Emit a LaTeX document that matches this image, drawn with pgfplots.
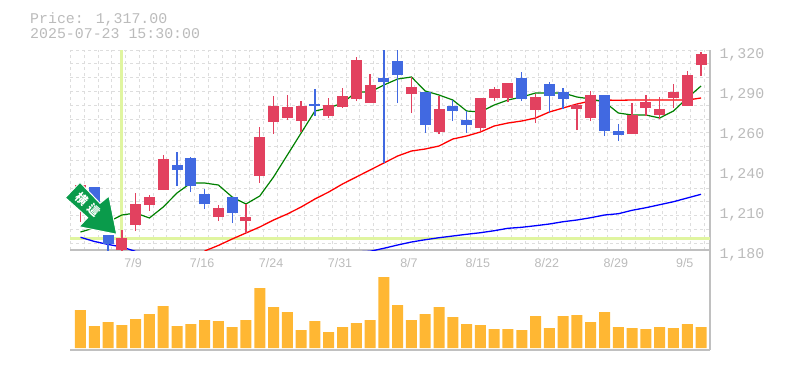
\documentclass[border=0pt]{standalone}
\usepackage{fontspec}
\usepackage{pgfplots}
\usepackage{pgfplotstable}
\pgfplotsset{compat=1.18}
\setmainfont{Liberation Sans}
\newfontfamily\monof{Liberation Mono}
\newfontfamily\cjk{Noto Sans CJK JP}
\definecolor{upc}{HTML}{E2415F}
\definecolor{dnc}{HTML}{4169E1}
\definecolor{volc}{HTML}{FFB733}
\definecolor{gridc}{HTML}{DDDDDD}
\definecolor{axc}{HTML}{C0C0C0}
\definecolor{txtc}{HTML}{BBBBBB}
\definecolor{crossc}{HTML}{E0F5A0}
\definecolor{arrowc}{HTML}{0A9B4B}
\pgfplotstableread{
i o c l h
0 1211.5 1225.5 1199.6 1226.2
3 1180.0 1188.4 1178.6 1194.0
4 1197.5 1212.2 1193.3 1219.9
5 1211.5 1217.1 1207.3 1218.5
6 1222.0 1243.7 1222.0 1246.5
10 1203.1 1209.4 1200.3 1211.5
12 1200.3 1203.1 1191.9 1212.2
13 1231.8 1259.1 1226.9 1266.1
14 1269.6 1280.8 1261.2 1287.8
15 1272.4 1280.1 1271.0 1288.5
16 1270.3 1280.8 1262.6 1284.3
18 1273.8 1281.5 1272.4 1286.4
19 1280.1 1287.8 1279.4 1293.4
20 1285.7 1313.0 1284.3 1315.1
21 1282.9 1295.5 1282.9 1303.2
24 1289.2 1294.1 1275.9 1301.1
26 1262.6 1278.7 1261.2 1287.8
29 1265.4 1286.4 1263.3 1286.4
30 1286.4 1292.7 1284.3 1294.1
31 1286.4 1296.9 1283.6 1296.9
33 1278.0 1287.1 1268.9 1289.2
36 1278.7 1281.5 1264.0 1282.2
37 1272.4 1288.5 1270.3 1291.3
40 1261.2 1274.5 1261.2 1282.9
41 1279.4 1283.6 1273.8 1288.5
42 1274.5 1278.7 1271.7 1287.1
43 1286.4 1290.6 1279.4 1296.2
44 1280.8 1302.5 1280.8 1305.3
45 1309.5 1317.2 1301.8 1318.6
}\upT
\pgfplotstableread{
i o c l h
1 1197.5 1224.1 1195.0 1224.1
2 1184.2 1190.5 1178.6 1190.5
7 1236.0 1239.5 1224.8 1248.6
8 1224.8 1244.4 1220.6 1245.1
9 1212.2 1219.2 1208.7 1222.7
11 1205.9 1217.1 1198.9 1217.1
17 1280.8 1282.2 1273.8 1292.7
22 1297.6 1300.4 1240.9 1327.0
23 1302.5 1312.3 1282.9 1327.0
25 1267.5 1290.6 1261.9 1290.6
27 1277.3 1280.8 1270.3 1285.0
28 1267.5 1271.0 1261.9 1277.3
32 1285.7 1300.4 1284.3 1304.6
34 1287.8 1296.2 1275.9 1297.6
35 1285.7 1290.6 1278.7 1293.4
38 1263.3 1288.5 1259.8 1288.5
39 1260.5 1263.3 1256.3 1268.2
}\dnT
\begin{document}
\begin{tikzpicture}[x=1pt,y=1pt]
\useasboundingbox (0,0) rectangle (785,-370);
\node[anchor=base west,inner sep=0pt,text=txtc,font=\monof\fontsize{14.9}{15}\selectfont] at (30,-23) {Price: 1,317.00};
\node[anchor=base west,inner sep=0pt,text=txtc,font=\monof\fontsize{14.9}{15}\selectfont] at (30,-38) {2025-07-23 15:30:00};
\begin{axis}[
  at={(70pt,-250pt)},anchor=south west,
  scale only axis,width=640pt,height=200pt,
  xmin=-0.761,xmax=45.65,ymin=1180,ymax=1320,
  axis x line*=bottom,axis y line*=right,
  axis line style={axc,line width=1.4pt,-},
  xtick={4,9,14,19,24,29,34,39,44},
  xticklabels={7/9,7/16,7/24,7/31,8/7,8/15,8/22,8/29,9/5},
  ytick={1180,1208,1236,1264,1292,1320},
  yticklabels={{1,180},{1,210},{1,240},{1,260},{1,290},{1,320}},
  minor xtick={-0.725,0.274,...,45.3},
  minor ytick={1184.76,1194.42,...,1320.5},
  xminorgrids=true,yminorgrids=true,xmajorgrids=false,ymajorgrids=false,
  minor grid style={gridc,line width=1pt,dash pattern=on 3pt off 3pt},
  major tick length=0pt,minor tick length=0pt,
  x tick label style={text=txtc,font=\fontsize{12.5}{13}\selectfont,anchor=center,yshift=-13pt,xshift=-2.5pt},
  y tick label style={text=txtc,font=\monof\fontsize{14.9}{15}\selectfont,anchor=west,yshift=-5pt,xshift=6pt},
  clip=true,
  every axis plot/.append style={forget plot},
]
\addplot[crossc,line width=3pt] coordinates {(3,1180) (3,1320)};
\addplot[crossc,line width=3pt] coordinates {(-0.761,1188.4) (45.65,1188.4)};
% moving averages
\addplot[color=blue,line width=1.3pt] coordinates {(0,1188.9)(1,1186)(2,1183.9)(3,1182.1)(4,1179)(12,1175)(21,1179.1)(22,1181.2)(23,1183.5)(24,1185.6)(25,1187.2)(26,1188.6)(27,1189.8)(28,1191)(29,1192.1)(30,1193.5)(31,1195.2)(32,1195.9)(33,1197)(34,1198.2)(35,1199.8)(36,1201)(37,1202.6)(38,1204.5)(39,1205.4)(40,1207.8)(41,1209.6)(42,1211.7)(43,1213.8)(44,1216.4)(45,1219)};
\addplot[color=red,line width=1.3pt] coordinates {(9,1179.3)(10,1183.2)(11,1187.7)(12,1191.9)(13,1196.1)(14,1201)(15,1205.2)(16,1210.1)(17,1215.7)(18,1220.6)(19,1226.2)(20,1231.1)(21,1236)(22,1240.9)(23,1245.8)(24,1249.3)(25,1250.7)(26,1252.8)(27,1257.7)(28,1259.8)(29,1262.6)(30,1266.8)(31,1268.9)(32,1270.3)(33,1272.4)(34,1276.6)(35,1279.4)(36,1282.2)(37,1284.3)(38,1285)(39,1284.8)(40,1285)(41,1285)(42,1285)(43,1285)(44,1285)(45,1286.4)};
\addplot[color=green!50!black,line width=1.2pt] coordinates {(0,1192.6)(1,1195.4)(2,1199.6)(3,1204.5)(4,1205.9)(5,1202.4)(6,1210.1)(7,1219.9)(8,1226.9)(9,1226.9)(10,1225.5)(11,1217.1)(12,1212.2)(13,1217.8)(14,1231.1)(15,1246.5)(16,1261.9)(17,1277.3)(18,1279.4)(19,1282.9)(20,1290.6)(21,1290.6)(22,1295.5)(23,1299.7)(24,1301.1)(25,1291.3)(26,1288.5)(27,1285)(28,1277.3)(29,1276.6)(30,1281.5)(31,1285)(32,1287.1)(33,1289.9)(34,1289.9)(35,1289.9)(36,1287.1)(37,1285.7)(38,1283.6)(39,1275.9)(40,1274.5)(41,1274.5)(42,1272.4)(43,1277.3)(44,1286.4)(45,1294.8)};
% candles: wicks then bodies
\addplot[draw=none,mark=none,error bars/.cd,y dir=plus,y explicit,error mark=none,error bar style={draw=upc,solid,line width=1.3pt}] table[x=i,y=l,y error plus expr=\thisrow{h}-\thisrow{l}] {\upT};
\addplot[draw=none,mark=none,error bars/.cd,y dir=plus,y explicit,error mark=none,error bar style={draw=dnc,solid,line width=1.3pt}] table[x=i,y=l,y error plus expr=\thisrow{h}-\thisrow{l}] {\dnT};
\addplot[draw=none,mark=none,error bars/.cd,y dir=plus,y explicit,error mark=none,error bar style={draw=upc,solid,line width=11pt}] table[x=i,y=o,y error plus expr=\thisrow{c}-\thisrow{o}] {\upT};
\addplot[draw=none,mark=none,error bars/.cd,y dir=plus,y explicit,error mark=none,error bar style={draw=dnc,solid,line width=11pt}] table[x=i,y=o,y error plus expr=\thisrow{c}-\thisrow{o}] {\dnT};
\end{axis}
\begin{axis}[
  at={(70pt,-350pt)},anchor=south west,
  scale only axis,width=640pt,height=100pt,
  xmin=-0.761,xmax=45.65,ymin=-2,ymax=98,
  axis x line*=bottom,axis y line*=right,
  axis line style={axc,line width=1.4pt,-},
  xtick=\empty,ytick=\empty,
  minor xtick={-0.725,0.274,...,45.3},
  xminorgrids=true,
  minor grid style={gridc,line width=1pt,dash pattern=on 3pt off 3pt},
  minor tick length=0pt,
]
\addplot[ybar,bar width=11pt,bar shift=0pt,fill=volc,draw=none] coordinates {
(0,38)(1,22)(2,26)(3,23)(4,29)(5,34)(6,42)(7,22)(8,24)(9,28)(10,27)(11,21)(12,28)(13,60)(14,41)(15,36)(16,18)(17,27)(18,16)(19,21)(20,25)(21,28)(22,71)
(23,43)(24,28)(25,34)(26,41)(27,31)(28,24)(29,23)(30,19)(31,19)(32,18)(33,32)(34,20)(35,32)(36,33)(37,26)(38,36)(39,21)(40,20)(41,19)(42,21)(43,20)(44,24)(45,21)};
\end{axis}
% signal arrow annotation
\filldraw[fill=arrowc,draw=white,line width=1pt,line join=miter]
 (80,-182.3)--(100,-203.3)--(109,-196)--(116.7,-234.3)--(79,-226.7)--(87.7,-217.7)--(65.3,-197.7)--cycle;
\node[text=white,rotate=-42,inner sep=0pt,font=\cjk\bfseries\fontsize{12}{12}\selectfont] at (81.7,-199.3) {横};
\node[text=white,rotate=-42,inner sep=0pt,font=\cjk\bfseries\fontsize{12}{12}\selectfont] at (94.3,-210) {這};
\end{tikzpicture}
\end{document}
